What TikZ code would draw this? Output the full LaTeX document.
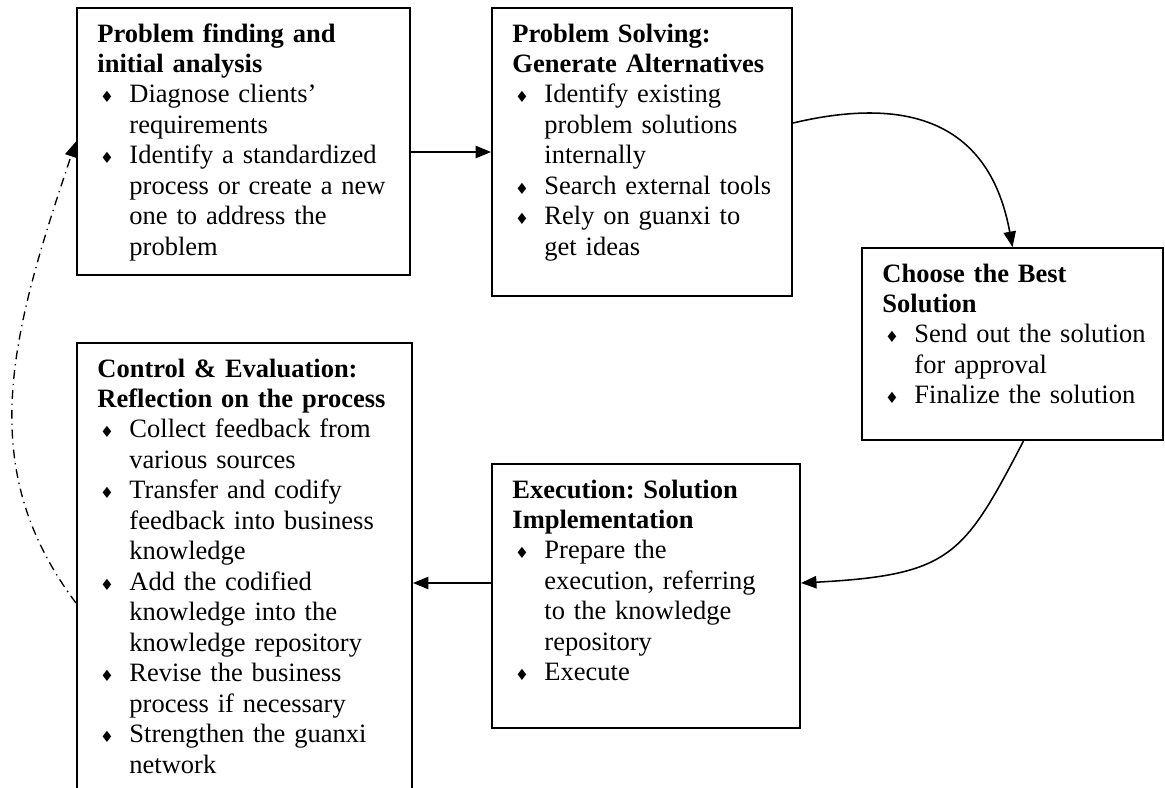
\documentclass[tikz,border=0pt]{standalone}
\usepackage{fontspec}
\setmainfont{Liberation Serif}
\newfontfamily\symfont{DejaVu Sans}
\usetikzlibrary{arrows.meta,fit,calc}
\frenchspacing
\newcommand{\diam}{{\symfont\fontsize{7}{7}\selectfont ♦}}
\newcommand{\bitem}{\makebox[14.5pt][l]{\hspace{1.2pt}\diam}}
\newcommand{\bcont}{\hspace*{14.5pt}}

\begin{document}
\begin{tikzpicture}[
    x=0.4528pt, y=-0.4528pt,
    frame/.style={draw, line width=0.9pt, inner sep=0pt},
    txt/.style={anchor=base west, align=left, inner sep=0pt, text width=150pt, font=\fontsize{12}{13.8}\selectfont},
    arrow/.style={-{Triangle[length=7pt,width=5.6pt]}, line width=0.7pt},
    feedback/.style={-{Triangle[length=7pt,width=5.6pt]}, line width=0.6pt, dash pattern=on 4pt off 2.2pt on 0.6pt off 2.2pt}
]
\useasboundingbox (0,0) rectangle (1165,787);
\clip (0,0) rectangle (1165,787);
\node[frame, fit={(77,8) (410,275)}] (find) {};
\node[frame, fit={(492,8) (792,296)}] (solve) {};
\node[frame, fit={(862,248) (1163,440)}] (choose) {};
\node[frame, fit={(492,464) (800,728)}] (execute) {};
\node[frame, fit={(77,343) (412,830)}] (review) {};
\node[txt] (findtext) at ($(find.north west)+(21,35)$) {\textbf{Problem finding and}\\\textbf{initial analysis}\\
  \bitem Diagnose clients’\\\bcont requirements\\
  \bitem Identify a standardized\\\bcont process or create a new\\\bcont one to address the\\\bcont problem};
\node[txt] (solvetext) at ($(solve.north west)+(21,35)$) {\textbf{Problem Solving:}\\\textbf{Generate Alternatives}\\
  \bitem Identify existing\\\bcont problem solutions\\\bcont internally\\
  \bitem Search external tools\\
  \bitem Rely on guanxi to\\\bcont get ideas};
\node[txt] (choosetext) at ($(choose.north west)+(21,35)$) {\textbf{Choose the Best}\\\textbf{Solution}\\
  \bitem Send out the solution\\\bcont for approval\\
  \bitem Finalize the solution};
\node[txt] (executetext) at ($(execute.north west)+(21,35)$) {\textbf{Execution: Solution}\\\textbf{Implementation}\\
  \bitem Prepare the\\\bcont execution, referring\\\bcont to the knowledge\\\bcont repository\\
  \bitem Execute};
\node[txt] (reviewtext) at ($(review.north west)+(21,35)$) {\textbf{Control \& Evaluation:}\\\textbf{Reflection on the process}\\
  \bitem Collect feedback from\\\bcont various sources\\
  \bitem Transfer and codify\\\bcont feedback into business\\\bcont knowledge\\
  \bitem Add the codified\\\bcont knowledge into the\\\bcont knowledge repository\\
  \bitem Revise the business\\\bcont process if necessary\\
  \bitem Strengthen the guanxi\\\bcont network};
\coordinate (handover) at ($(execute.west)+(0,-13)$);
\draw[arrow] (find.east |- solve.west) -- (solve.west);
\draw[arrow] ($(solve.east)+(0,-29)$) .. controls +(118,-28) and +(-22.5,-123) .. (choose.north);
\draw[arrow] ($(choose.south)+(11,0)$) .. controls +(-60,115) and +(150,-8) .. ($(execute.east)+(0,-13)$);
\draw[arrow] (handover) -- (handover -| review.east);
\draw[feedback] ($(review.west)+(0,16.5)$) .. controls +(-102,-136) and +(-66,195.5) .. (find.west);
\end{tikzpicture}
\end{document}
